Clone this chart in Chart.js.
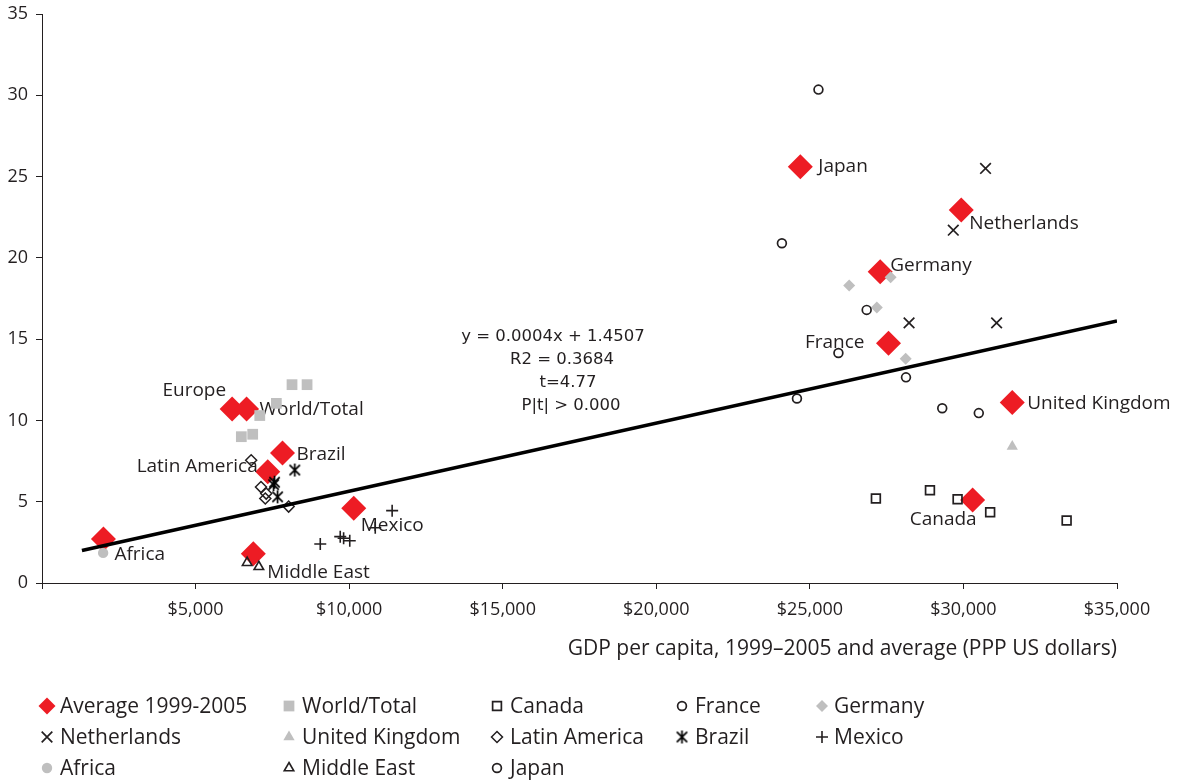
<!DOCTYPE html>
<html>
<head>
<meta charset="utf-8">
<script src="https://cdn.jsdelivr.net/npm/chart.js@4/dist/chart.umd.min.js"></script>
<style>
  html, body { margin: 0; padding: 0; background: #ffffff; }
  #wrap { width: 1182px; height: 784px; }
</style>
</head>
<body>
<div id="wrap"><canvas id="c" width="1182" height="784"></canvas></div>
<script>
// ---- data -------------------------------------------------------------
// Averages over 1999-2005, one point per region / country
const avgNames = ['Africa', 'Middle East', 'Europe', 'World/Total', 'Latin America', 'Brazil', 'Mexico',
                  'Japan', 'Germany', 'France', 'Netherlands', 'Canada', 'United Kingdom'];
const avgGdp   = [2000, 6880, 6190, 6660, 7350, 7830, 10150, 24690, 27290, 27560, 29930, 30300, 31590];
const avgRate  = [2.7, 1.8, 10.7, 10.7, 6.85, 8.0, 4.6, 25.6, 19.15, 14.75, 22.95, 5.1, 11.1];

// Yearly observations
const worldGdp   = [8140, 8630, 7630, 7090, 6860, 6490];
const worldRate  = [12.2, 12.2, 11.05, 10.3, 9.15, 9.0];
const canadaGdp  = [27150, 28910, 29810, 30870, 33360];
const canadaRate = [5.2, 5.7, 5.15, 4.35, 3.85];
const franceGdp  = [26850, 25930, 28130, 29310, 30500];
const franceRate = [16.8, 14.15, 12.65, 10.75, 10.45];
const germanyGdp  = [26280, 27630, 27180, 28120];
const germanyRate = [18.3, 18.8, 16.95, 13.8];
const netherlandsGdp  = [30720, 29670, 28230, 31080];
const netherlandsRate = [25.5, 21.7, 16.0, 16.0];
const ukGdp  = [31590];
const ukRate = [8.4];
const latamGdp  = [6810, 7130, 7300, 7270, 8030];
const latamRate = [7.55, 5.9, 5.5, 5.2, 4.7];
const brazilGdp  = [8230, 7570, 7540, 7670];
const brazilRate = [6.95, 6.2, 6.05, 5.3];
const mexicoGdp  = [11400, 10850, 9060, 9710, 9820, 10020];
const mexicoRate = [4.45, 3.4, 2.4, 2.85, 2.75, 2.6];
const africaGdp  = [1990];
const africaRate = [1.85];
const middleEastGdp  = [6680, 7060];
const middleEastRate = [1.25, 1.0];
const japanGdp  = [25280, 24090, 24580];
const japanRate = [30.35, 20.9, 11.35];

// Fitted linear trend
const trendSlope = 0.000419;
const trendIntercept = 1.4507;
const trendR2 = 0.3684;
const trendT = 4.77;
const trendP = 0.000;
const trendFrom = 1300;
const trendTo = 35000;

// Axis ranges
const xMin = 0, xMax = 35000, xStep = 5000;
const yMin = 0, yMax = 35, yStep = 5;
const xTitle = 'GDP per capita, 1999\u20132005 and average (PPP US dollars)';

// ---- styling ----------------------------------------------------------
const INK = '#231f20';
const RED = '#ed1c24';
const GREY = '#bfbfbf';
const NONE = 'rgba(0,0,0,0)';
const SANS = '"Open Sans", "Noto Sans", sans-serif';

// Label placement next to the average markers: [dx, dy, align]
const avgLabelPlacement = {
  'Africa': [11, 15, 'left'],
  'Middle East': [14, 19, 'left'],
  'Europe': [-6, -18, 'right'],
  'World/Total': [13, 1, 'left'],
  'Latin America': [-10, -5, 'right'],
  'Brazil': [14, 2, 'left'],
  'Mexico': [7, 17, 'left'],
  'Japan': [18, 0, 'left'],
  'Germany': [10, -6, 'left'],
  'France': [-24, -1, 'right'],
  'Netherlands': [8, 14, 'left'],
  'Canada': [4, 20, 'right'],
  'United Kingdom': [15, 1, 'left']
};

function pts(xs, ys) { return xs.map((x, i) => ({ x: x, y: ys[i] })); }

// asterisk-like marker: a diagonal cross with a vertical stroke
function makeAsterisk() {
  const s = 15, c = document.createElement('canvas');
  c.width = s; c.height = s;
  const g = c.getContext('2d');
  g.strokeStyle = '#000000'; g.lineWidth = 1.7;
  const m = s / 2, a = 5.2, v = 6.4;
  g.beginPath();
  g.moveTo(m - a, m - a); g.lineTo(m + a, m + a);
  g.moveTo(m + a, m - a); g.lineTo(m - a, m + a);
  g.moveTo(m, m - v); g.lineTo(m, m + v);
  g.stroke();
  return c;
}
const asteriskMarker = makeAsterisk();

function series(label, data, style, radius, fill, stroke, bw, extra) {
  return Object.assign({
    label: label, data: data, pointStyle: style,
    pointRadius: radius, pointHoverRadius: radius,
    pointBackgroundColor: fill, pointBorderColor: stroke, pointBorderWidth: bw,
    backgroundColor: fill, borderColor: stroke, showLine: false, order: 0
  }, extra || {});
}

const datasets = [
  series('Average 1999-2005', pts(avgGdp, avgRate), 'rectRot', 12.5, RED, RED, 0, { order: 50, legendRadius: 8.5 }),
  series('World/Total', pts(worldGdp, worldRate), 'rect', 7.6, GREY, GREY, 0),
  series('Canada', pts(canadaGdp, canadaRate), 'rect', 6.2, NONE, INK, 1.7),
  series('France', pts(franceGdp, franceRate), 'circle', 4.4, NONE, INK, 1.7),
  series('Germany', pts(germanyGdp, germanyRate), 'rectRot', 6, GREY, GREY, 0),
  series('Netherlands', pts(netherlandsGdp, netherlandsRate), 'crossRot', 7.5, INK, INK, 1.7),
  series('United Kingdom', pts(ukGdp, ukRate), 'triangle', 6.5, GREY, GREY, 0),
  series('Latin America', pts(latamGdp, latamRate), 'rectRot', 5.5, NONE, INK, 1.5),
  series('Brazil', pts(brazilGdp, brazilRate), asteriskMarker, 7, INK, INK, 1.6),
  series('Mexico', pts(mexicoGdp, mexicoRate), 'cross', 6, INK, INK, 1.6),
  series('Africa', pts(africaGdp, africaRate), 'circle', 5.2, GREY, GREY, 0),
  series('Middle East', pts(middleEastGdp, middleEastRate), 'triangle', 5.5, NONE, INK, 1.6),
  series('Japan', pts(japanGdp, japanRate), 'circle', 4.4, NONE, INK, 1.7),
  {
    label: 'trend', isTrend: true, showLine: true, order: -1,
    data: [trendFrom, trendTo].map(x => ({ x: x, y: trendSlope * x + trendIntercept })),
    borderColor: '#000000', borderWidth: 3.6, pointRadius: 0, pointHoverRadius: 0, fill: false
  }
];

// ---- plugins ----------------------------------------------------------
const avgLabels = {
  id: 'avgLabels',
  afterDatasetDraw(chart, args) {
    if (args.index !== 0) return;
    const ctx = chart.ctx, meta = chart.getDatasetMeta(0);
    ctx.save();
    ctx.font = '19px ' + SANS;
    ctx.fillStyle = INK;
    ctx.textBaseline = 'middle';
    meta.data.forEach((el, i) => {
      const p = avgLabelPlacement[avgNames[i]];
      ctx.textAlign = p[2];
      ctx.fillText(avgNames[i], el.x + p[0], el.y + p[1]);
    });
    ctx.restore();
  }
};

const trendNote = {
  id: 'trendNote',
  afterDraw(chart) {
    const ctx = chart.ctx, a = chart.chartArea;
    const lines = [
      ['y = ' + trendSlope.toFixed(4) + 'x + ' + trendIntercept.toFixed(4), 511],
      ['R2 = ' + trendR2.toFixed(4), 520],
      ['t=' + trendT.toFixed(2), 526],
      ['P|t| > ' + trendP.toFixed(3), 529]
    ];
    ctx.save();
    ctx.font = '16.5px "DejaVu Sans", Verdana, sans-serif';
    ctx.fillStyle = INK;
    ctx.textAlign = 'center';
    ctx.textBaseline = 'middle';
    lines.forEach((l, i) => ctx.fillText(l[0], a.left + l[1], a.top + 323 + i * 22.8));
    ctx.restore();
  }
};

const gridLegend = {
  id: 'gridLegend',
  afterDraw(chart) {
    const ctx = chart.ctx;
    const markX = [47, 289, 497, 682, 822];
    const textX = [60, 302, 510, 695, 834];
    const rowY = [706, 737, 768];
    const items = chart.data.datasets.filter(d => !d.isTrend);
    ctx.save();
    items.forEach((d, i) => {
      const col = i % 5, row = Math.floor(i / 5);
      const x = markX[col], y = rowY[row];
      ctx.fillStyle = d.pointBackgroundColor;
      ctx.strokeStyle = d.pointBorderColor;
      ctx.lineWidth = d.pointBorderWidth;
      Chart.helpers.drawPoint(ctx, {
        pointStyle: d.pointStyle, rotation: 0,
        radius: d.legendRadius || d.pointRadius, borderWidth: d.pointBorderWidth
      }, x, y);
      ctx.font = '21px ' + SANS;
      ctx.fillStyle = INK;
      ctx.textAlign = 'left';
      ctx.textBaseline = 'middle';
      ctx.fillText(d.label, textX[col], y + 1);
    });
    ctx.restore();
  }
};

// ---- chart ------------------------------------------------------------
new Chart(document.getElementById('c'), {
  type: 'scatter',
  data: { datasets: datasets },
  plugins: [avgLabels, trendNote, gridLegend],
  options: {
    responsive: false,
    animation: false,
    devicePixelRatio: 1,
    layout: { padding: { top: 14, right: 65, bottom: 119, left: 0 } },
    plugins: { legend: { display: false }, tooltip: { enabled: false } },
    scales: {
      x: {
        type: 'linear', min: xMin, max: xMax,
        ticks: {
          stepSize: xStep, color: INK, padding: 10, maxRotation: 0, autoSkip: false,
          font: { family: SANS, size: 18 },
          callback: v => v === 0 ? '' : '$' + v.toLocaleString('en-US')
        },
        grid: { drawOnChartArea: false, drawTicks: true, tickLength: 6, color: INK, tickWidth: 1 },
        border: { display: true, color: INK, width: 1 },
        title: {
          display: true, text: xTitle, align: 'end', color: INK,
          font: { family: SANS, size: 21 }, padding: { top: 0, bottom: 3 }
        },
        afterFit: s => { s.height = 82; s.paddingLeft = 0; s.paddingRight = 0; }
      },
      y: {
        type: 'linear', min: yMin, max: yMax,
        ticks: { stepSize: yStep, color: INK, padding: 8, font: { family: SANS, size: 18 } },
        grid: { drawOnChartArea: false, drawTicks: true, tickLength: 6, color: INK, tickWidth: 1 },
        border: { display: true, color: INK, width: 1 },
        afterFit: s => { s.width = 42; s.paddingTop = 0; s.paddingBottom = 0; }
      }
    }
  }
});
</script>
</body>
</html>
